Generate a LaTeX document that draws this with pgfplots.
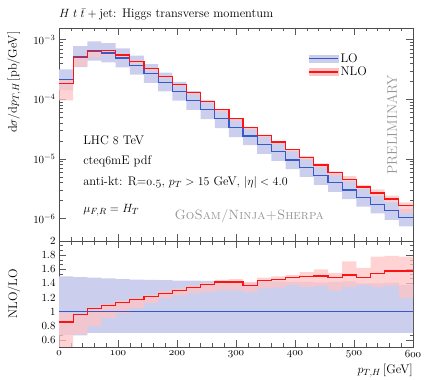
\documentclass[border=0pt]{standalone}
\usepackage{fontspec}
\usepackage{pgfplots}
\pgfplotsset{compat=1.18}
\usepgfplotslibrary{fillbetween}
\usepackage{pgfplotstable}
\definecolor{loline}{RGB}{55,90,200}
\definecolor{nloline}{RGB}{250,20,20}
\definecolor{loband}{RGB}{203,207,237}
\definecolor{nloband}{RGB}{255,196,196}
\definecolor{wm}{RGB}{150,150,150}
\newcommand\lab{\fontsize{12.5}{14}\selectfont}
\newcommand\osn[1]{{\fontencoding{OML}\fontfamily{cmm}\fontseries{m}\fontshape{it}\selectfont #1}}

\pgfplotstableread{
x    lo       nlo       blo       bhi       rlo       rhi
0    2.13e-4  1.821e-4  1.427e-4  3.195e-4  9.59e-5   2.087e-4
24   5.24e-4  5.02e-4   3.485e-4  7.81e-4   3.563e-4  5.03e-4
48   6.36e-4  6.614e-4  4.452e-4  9.41e-4   5.088e-4  6.742e-4
72   5.97e-4  6.507e-4  4.179e-4  8.776e-4  5.433e-4  6.627e-4
96   4.92e-4  5.56e-4   3.444e-4  7.183e-4  4.822e-4  5.707e-4
120  3.71e-4  4.341e-4  2.597e-4  5.398e-4  3.896e-4  4.452e-4
144  2.69e-4  3.255e-4  1.883e-4  3.901e-4  3.013e-4  3.336e-4
168  1.94e-4  2.444e-4  1.358e-4  2.803e-4  2.309e-4  2.503e-4
192  1.357e-4 1.771e-4  9.5e-5    1.954e-4  1.669e-4  1.805e-4
216  9.53e-5  1.282e-4  6.67e-5   1.372e-4  1.201e-4  1.306e-4
240  6.67e-5  9.2e-5    4.669e-5  9.57e-5   8.54e-5   9.40e-5
264  4.70e-5  6.674e-5  3.29e-5   6.745e-5  6.11e-5   6.815e-5
288  3.32e-5  4.714e-5  2.324e-5  4.748e-5  4.316e-5  4.847e-5
312  2.43e-5  3.329e-5  1.701e-5  3.426e-5  3.11e-5   3.451e-5
336  1.727e-5 2.496e-5  1.209e-5  2.47e-5   2.297e-5  2.556e-5
360  1.326e-5 1.929e-5  9.28e-6   1.896e-5  1.777e-5  1.989e-5
384  9.59e-6  1.419e-5  6.71e-6   1.362e-5  1.323e-5  1.458e-5
408  7.15e-6  1.069e-5  5.005e-6  1.015e-5  9.65e-6   1.115e-5
432  5.24e-6  7.886e-6  3.668e-6  7.388e-6  7.126e-6  8.384e-6
456  3.99e-6  5.933e-6  2.793e-6  5.666e-6  5.187e-6  6.185e-6
480  3.01e-6  4.575e-6  2.107e-6  4.304e-6  4.064e-6  5.147e-6
504  2.27e-6  3.375e-6  1.589e-6  3.178e-6  3.133e-6  3.677e-6
528  1.736e-6 2.673e-6  1.215e-6  2.43e-6   2.344e-6  3.09e-6
552  1.351e-6 2.128e-6  9.46e-7   1.905e-6  1.851e-6  2.418e-6
576  1.048e-6 1.651e-6  7.34e-7   1.446e-6  1.247e-6  1.865e-6
600  1.048e-6 1.651e-6  7.34e-7   1.446e-6  1.247e-6  1.865e-6
}\maintab

\pgfplotstableread{
x    one  r      bl     bh     rl    rh
0    1    0.855  0.67   1.50   0.45  0.98
24   1    0.958  0.665  1.49   0.68  0.96
48   1    1.04   0.70   1.48   0.80  1.06
72   1    1.09   0.70   1.47   0.91  1.11
96   1    1.13   0.70   1.46   0.98  1.16
120  1    1.17   0.70   1.455  1.05  1.20
144  1    1.21   0.70   1.45   1.12  1.24
168  1    1.26   0.70   1.445  1.19  1.29
192  1    1.305  0.70   1.44   1.23  1.33
216  1    1.345  0.70   1.44   1.26  1.37
240  1    1.38   0.70   1.435  1.28  1.41
264  1    1.42   0.70   1.435  1.30  1.45
288  1    1.42   0.70   1.43   1.30  1.46
312  1    1.37   0.70   1.41   1.28  1.42
336  1    1.445  0.70   1.43   1.33  1.48
360  1    1.455  0.70   1.43   1.34  1.50
384  1    1.48   0.70   1.42   1.38  1.52
408  1    1.495  0.70   1.42   1.35  1.56
432  1    1.505  0.70   1.41   1.36  1.60
456  1    1.487  0.70   1.42   1.30  1.55
480  1    1.52   0.70   1.43   1.35  1.71
504  1    1.487  0.70   1.40   1.38  1.62
528  1    1.54   0.70   1.40   1.35  1.78
552  1    1.575  0.70   1.41   1.37  1.79
576  1    1.575  0.70   1.38   1.19  1.78
600  1    1.575  0.70   1.38   1.19  1.78
}\ratiotab

\begin{document}
\begin{tikzpicture}
\pgfplotsset{
  common/.style={
    scale only axis, width=354bp,
    xmin=0, xmax=600, xtick={0,100,...,600}, minor x tick num=4,
    tick align=inside, major tick length=7bp, minor tick length=3.5bp,
    every tick/.append style={black!65, line width=0.5bp},
    axis line style={black!70, line width=0.5bp},
    tick label style={font=\fontsize{11}{13}\selectfont},
    label style={font=\lab},
  }
}
\begin{axis}[common, at={(0,106bp)}, anchor=south west, height=213bp,
  ymode=log, ymin=4.19e-7, ymax=1.574e-3, ytick={1e-6,1e-5,1e-4,1e-3},
  xticklabels={},
  ylabel={$\mathrm{d}\sigma/\mathrm{d}p_{T,H}\,$[pb/GeV]},
  ylabel style={at={(axis description cs:-0.127,1)}, anchor=east},
  title={$H\;t\;\bar{t}+{}$jet: Higgs transverse momentum},
  title style={at={(axis description cs:0,1)}, anchor=west, yshift=8bp, inner sep=0pt, font=\lab},
  legend style={at={(axis description cs:0.695,0.90)}, anchor=north west, draw=none, fill=none, font=\lab, row sep=-1bp},
  legend cell align=left,
]
\addlegendimage{legend image code/.code={\fill[loband] (0bp,-3.5bp) rectangle (29bp,3.5bp); \draw[loline, line width=1.3bp] (0bp,0bp) -- (29bp,0bp);}}
\addlegendentry{LO}
\addlegendimage{legend image code/.code={\fill[nloband] (0bp,-3.5bp) rectangle (29bp,3.5bp); \draw[nloline, line width=1.3bp] (0bp,0bp) -- (29bp,0bp);}}
\addlegendentry{NLO}
\addplot[draw=none, const plot, name path=bh] table[x=x,y=bhi]{\maintab};
\addplot[draw=none, const plot, name path=bl] table[x=x,y=blo]{\maintab};
\addplot[fill=loband, draw=none] fill between[of=bh and bl];
\addplot[draw=none, const plot, name path=rh] table[x=x,y=rhi]{\maintab};
\addplot[draw=none, const plot, name path=rl] table[x=x,y=rlo]{\maintab};
\addplot[fill=nloband, fill opacity=0.75, draw=none] fill between[of=rh and rl];
\addplot[loline, line width=1.2bp, const plot] table[x=x,y=lo]{\maintab};
\addplot[nloline, line width=1.2bp, const plot] table[x=x,y=nlo]{\maintab};
\node[anchor=base west, font=\lab, inner sep=0pt] at (rel axis cs:0.068,0.451) {LHC \osn{8} TeV};
\node[anchor=base west, font=\lab, inner sep=0pt] at (rel axis cs:0.068,0.357) {cteq\osn{6}mE pdf};
\node[anchor=base west, font=\lab, inner sep=0pt] at (rel axis cs:0.068,0.260) {anti-kt: R=\osn{0}.\osn{5}, $p_T > 15$ GeV, $|\eta| < 4.0$};
\node[anchor=base west, font=\lab, inner sep=0pt] at (rel axis cs:0.068,0.133) {$\mu_{F,R} = H_T$};
\node[anchor=base east, font=\fontsize{13.5}{15}\selectfont, text=wm, inner sep=0pt] at (rel axis cs:0.749,0.103) {\textsc{GoSam/Ninja+Sherpa}};
\node[rotate=90, anchor=center, font=\fontsize{14}{16}\selectfont, text=wm, inner sep=0pt] at (rel axis cs:0.941,0.545) {PRELIMINARY};
\end{axis}

\begin{axis}[common, at={(0,0)}, anchor=south west, height=106bp,
  ymin=0.5, ymax=2, ytick={0.6,0.8,1,1.2,1.4,1.6,1.8,2}, minor y tick num=2,
  xticklabels={\osn{0},\osn{100},\osn{200},\osn{300},\osn{400},\osn{500},\osn{600}},
  ylabel={NLO/LO},
  ylabel style={at={(axis description cs:-0.127,0.5)}, anchor=center},
  xlabel={$p_{T,H}\,$[GeV]},
  xlabel style={at={(axis description cs:1,0)}, anchor=east, yshift=-24bp, inner sep=0pt},
]
\addplot[draw=none, const plot, name path=qbh] table[x=x,y=bh]{\ratiotab};
\addplot[draw=none, const plot, name path=qbl] table[x=x,y=bl]{\ratiotab};
\addplot[fill=loband, draw=none] fill between[of=qbh and qbl];
\addplot[draw=none, const plot, name path=qrh] table[x=x,y=rh]{\ratiotab};
\addplot[draw=none, const plot, name path=qrl] table[x=x,y=rl]{\ratiotab};
\addplot[fill=nloband, fill opacity=0.75, draw=none] fill between[of=qrh and qrl];
\addplot[loline, line width=1.2bp, const plot] table[x=x,y=one]{\ratiotab};
\addplot[nloline, line width=1.2bp, const plot] table[x=x,y=r]{\ratiotab};
\end{axis}
\pgfresetboundingbox
\path[use as bounding box] (-59bp,-33bp) rectangle (366bp,347bp);
\end{tikzpicture}
\end{document}
